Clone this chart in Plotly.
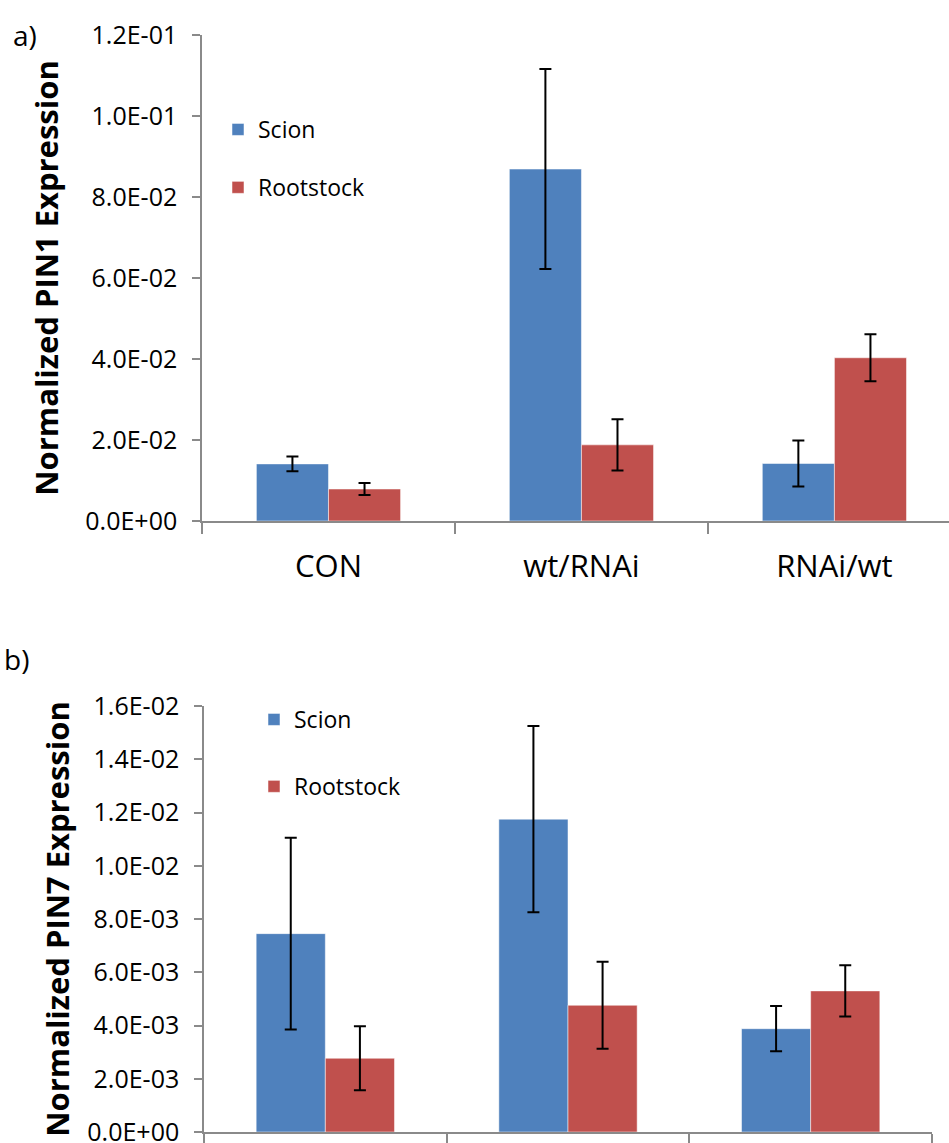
import plotly.graph_objects as go

# ---- data ----
categories = ["CON", "wt/RNAi", "RNAi/wt"]
series_names = ["Scion", "Rootstock"]

pin1_scion = [0.0141, 0.0869, 0.0142]
pin1_scion_err = [0.0018, 0.0247, 0.0057]
pin1_root = [0.0079, 0.0188, 0.0403]
pin1_root_err = [0.0015, 0.0063, 0.0058]

pin7_scion = [0.00745, 0.01175, 0.00388]
pin7_scion_err = [0.0036, 0.0035, 0.00085]
pin7_root = [0.00277, 0.00476, 0.00530]
pin7_root_err = [0.0012, 0.00163, 0.00096]

pin1_ticks = [0.0, 0.02, 0.04, 0.06, 0.08, 0.10, 0.12]
pin7_ticks = [0.0, 0.002, 0.004, 0.006, 0.008, 0.010, 0.012, 0.014, 0.016]

pin1_title = "Normalized PIN1 Expression"
pin7_title = "Normalized PIN7 Expression"
panel_labels = ["a)", "b)"]

# ---- style ----
W, H = 949, 1143
BLUE = "#4F81BD"
RED = "#C0504D"
AXIS = "#8a8a8a"
FONT = "Open Sans"


def fmt(v):
    return f"{v:.1E}"


def px_x(p):
    return p / W


def px_y(p):
    return 1 - p / H


fig = go.Figure()

colors = [BLUE, RED]
top_vals = [pin1_scion, pin1_root]
top_errs = [pin1_scion_err, pin1_root_err]
bot_vals = [pin7_scion, pin7_root]
bot_errs = [pin7_scion_err, pin7_root_err]

for i in range(2):
    fig.add_trace(go.Bar(
        x=categories, y=top_vals[i], name=series_names[i],
        marker=dict(color=colors[i], line=dict(color="rgba(255,255,255,0.5)", width=1)),
        error_y=dict(type="data", array=top_errs[i], color="black", thickness=2, width=6),
        xaxis="x", yaxis="y", legend="legend", legendgroup="t" + str(i),
    ))
for i in range(2):
    fig.add_trace(go.Bar(
        x=categories, y=bot_vals[i], name=series_names[i],
        marker=dict(color=colors[i], line=dict(color="rgba(255,255,255,0.5)", width=1)),
        error_y=dict(type="data", array=bot_errs[i], color="black", thickness=2, width=6),
        xaxis="x2", yaxis="y2", legend="legend2", legendgroup="b" + str(i),
    ))

xcommon = dict(
    type="category", showline=True, linecolor=AXIS, linewidth=1.5,
    ticks="outside", tickson="boundaries", ticklen=11, tickcolor=AXIS, tickwidth=1.5,
    showgrid=False, zeroline=False, automargin=False, ticklabelstandoff=17,
    tickfont=dict(family=FONT, size=31, color="black"),
)
ycommon = dict(
    showline=True, linecolor=AXIS, linewidth=1.5,
    ticks="outside", ticklen=8, tickcolor=AXIS, tickwidth=1.5,
    showgrid=False, zeroline=False, automargin=False, ticklabelstandoff=10,
    ticklabeloverflow="allow",
    tickfont=dict(family=FONT, size=25, color="black"),
)

fig.update_layout(
    template="none",
    width=W, height=H,
    margin=dict(l=0, r=0, t=0, b=0, autoexpand=False),
    paper_bgcolor="white", plot_bgcolor="white",
    font=dict(family=FONT, color="black"),
    barmode="group", bargap=0.43, bargroupgap=0,
    xaxis=dict(xcommon, domain=[px_x(202), 1.0], range=[-0.5, 2.453], anchor="y"),
    yaxis=dict(ycommon, domain=[px_y(521), px_y(35)], range=[0, 0.12], anchor="x",
               tickvals=pin1_ticks, ticktext=[fmt(v) for v in pin1_ticks],
               title=dict(text="<b>" + pin1_title + "</b>", font=dict(family=FONT, size=31, color="black"), standoff=17)),
    xaxis2=dict(xcommon, domain=[px_x(204), px_x(932)], range=[-0.5, 2.5], anchor="y2",
                showticklabels=False),
    yaxis2=dict(ycommon, domain=[px_y(1132), px_y(706)], range=[0, 0.016], anchor="x2",
                tickvals=pin7_ticks, ticktext=[fmt(v) for v in pin7_ticks],
                title=dict(text="<b>" + pin7_title + "</b>", font=dict(family=FONT, size=31, color="black"), standoff=8)),
    legend=dict(x=px_x(218), y=px_y(108), xanchor="left", yanchor="top",
                bgcolor="rgba(0,0,0,0)", font=dict(family=FONT, size=23, color="black"),
                tracegroupgap=25, traceorder="grouped"),
    legend2=dict(x=px_x(254), y=px_y(698), xanchor="left", yanchor="top",
                 bgcolor="rgba(0,0,0,0)", font=dict(family=FONT, size=23, color="black"),
                 tracegroupgap=34, traceorder="grouped"),
    annotations=[
        dict(text=panel_labels[0], x=px_x(11), y=px_y(14), xref="paper", yref="paper",
             xanchor="left", yanchor="top", showarrow=False, font=dict(family=FONT, size=28, color="black")),
        dict(text=panel_labels[1], x=px_x(2), y=px_y(638), xref="paper", yref="paper",
             xanchor="left", yanchor="top", showarrow=False, font=dict(family=FONT, size=28, color="black")),
    ],
)

fig.write_html("out.html")
